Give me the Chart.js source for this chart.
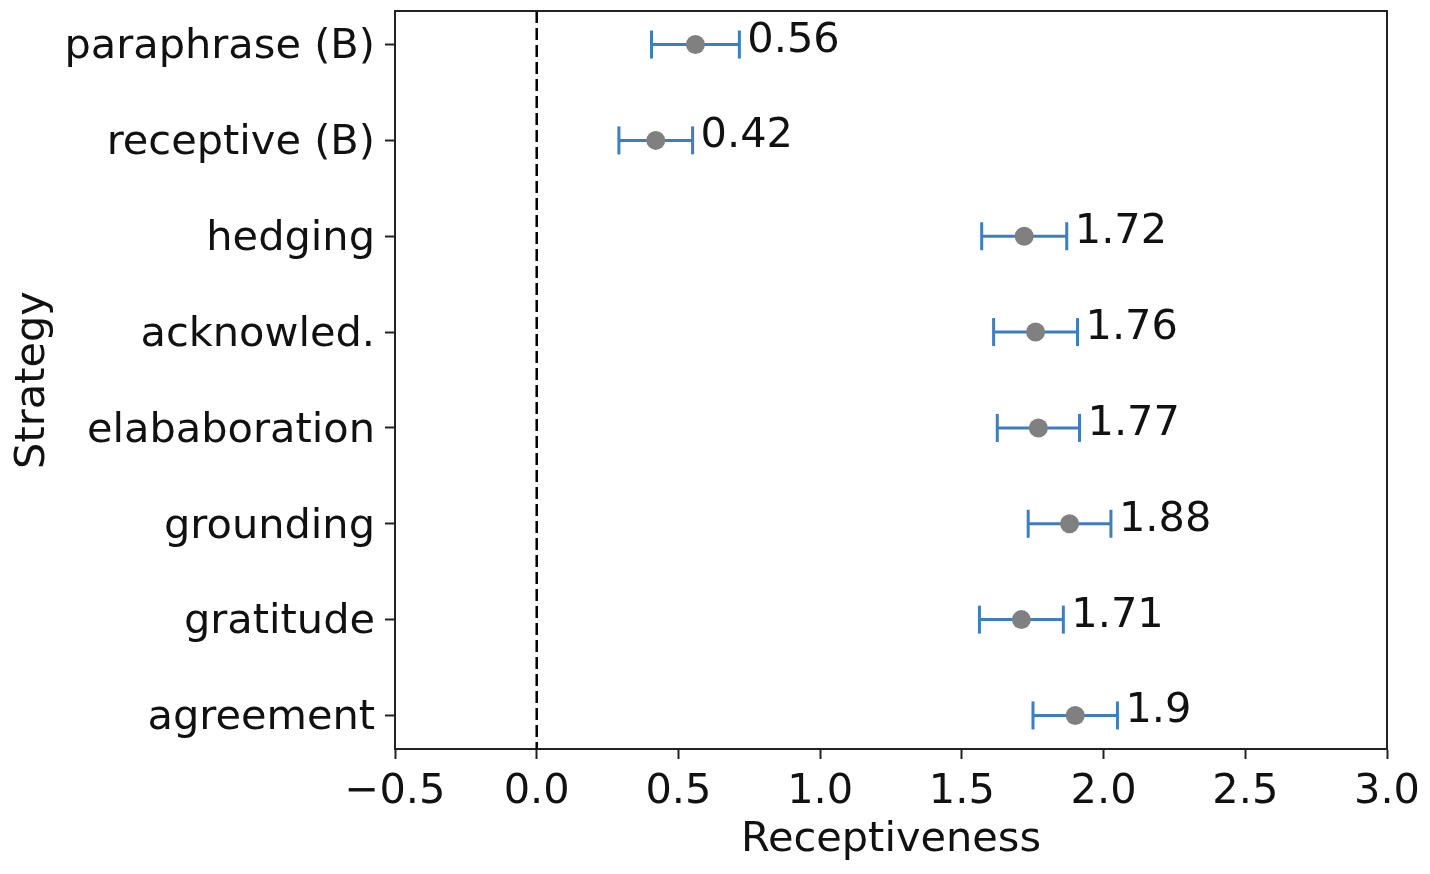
<!DOCTYPE html>
<html>
<head>
<meta charset="utf-8">
<script src="https://cdn.jsdelivr.net/npm/chart.js@4/dist/chart.umd.min.js"></script>
<style>
  html, body { margin: 0; padding: 0; background: #fff; }
  canvas { display: block; }
</style>
</head>
<body>
<canvas id="myChart" width="1430" height="874"></canvas>
<script>
// data
const strategies = ["paraphrase (B)", "receptive (B)", "hedging", "acknowled.", "elababoration", "grounding", "gratitude", "agreement"];
const means = [0.56, 0.42, 1.72, 1.76, 1.77, 1.88, 1.71, 1.9];
const errs = [0.155, 0.13, 0.15, 0.148, 0.145, 0.146, 0.148, 0.149];
const xTicks = [-0.5, 0.0, 0.5, 1.0, 1.5, 2.0, 2.5, 3.0];

const FONT = "'DejaVu Sans', sans-serif";
const FSIZE = 41.5;
const BLUE = '#3d7ebf';
const INK = '#111';

// error bars, one small line per strategy, caps drawn as rotated line points
const errSets = strategies.map((s, i) => ({
  type: 'line',
  data: [{x: means[i] - errs[i], y: i}, {x: means[i] + errs[i], y: i}],
  borderColor: BLUE,
  borderWidth: 3,
  pointStyle: 'line',
  pointRotation: 90,
  pointRadius: 14,
  pointBorderWidth: 3,
  pointBorderColor: BLUE,
  order: 1
}));

const frame = {
  id: 'frame',
  afterDraw(chart) {
    const {ctx, chartArea: a} = chart;
    ctx.save();
    ctx.strokeStyle = '#222';
    ctx.lineWidth = 2;
    ctx.beginPath();
    ctx.moveTo(a.left, a.top);
    ctx.lineTo(a.right, a.top);
    ctx.lineTo(a.right, a.bottom);
    ctx.stroke();
    ctx.restore();
  }
};

const valueLabels = {
  id: 'valueLabels',
  afterDatasetsDraw(chart) {
    const {ctx, scales} = chart;
    ctx.save();
    ctx.font = FSIZE + "px " + FONT;
    ctx.fillStyle = INK;
    ctx.textAlign = 'left';
    ctx.textBaseline = 'alphabetic';
    means.forEach((m, i) => {
      const px = scales.x.getPixelForValue(m + errs[i]) + 8;
      const py = scales.y.getPixelForValue(i) + 7;
      ctx.fillText(String(m), px, py);
    });
    ctx.restore();
  }
};

var ctx = document.getElementById("myChart").getContext('2d');
var myChart = new Chart(ctx, {
  type: 'scatter',
  data: {
    datasets: [
      {
        data: means.map((m, i) => ({x: m, y: i})),
        backgroundColor: '#808080',
        borderWidth: 0,
        pointRadius: 9.5,
        order: 0
      },
      ...errSets,
      {
        type: 'line',
        data: [{x: 0, y: -0.35}, {x: 0, y: 7.35}],
        borderColor: '#000',
        borderWidth: 2.5,
        borderDash: [12, 5],
        pointRadius: 0,
        order: 2
      }
    ]
  },
  options: {
    responsive: false,
    animation: false,
    devicePixelRatio: 1,
    layout: { autoPadding: false, padding: { top: 11, right: 43, left: 0, bottom: 0 } },
    plugins: { legend: { display: false }, tooltip: { enabled: false } },
    scales: {
      x: {
        type: 'linear',
        min: -0.5,
        max: 3.0,
        afterBuildTicks: (axis) => { axis.ticks = xTicks.map(v => ({value: v})); },
        afterFit: (axis) => { axis.height = 125; },
        ticks: {
          font: { family: FONT, size: FSIZE },
          color: INK,
          padding: 8,
          maxRotation: 0,
          callback: (v) => v.toFixed(1).replace('-', '\u2212')
        },
        grid: { drawOnChartArea: false, tickLength: 10, tickWidth: 2, tickColor: '#222' },
        border: { display: true, color: '#222', width: 2 },
        title: {
          display: true,
          text: 'Receptiveness',
          font: { family: FONT, size: FSIZE },
          color: INK,
          padding: { top: 0, bottom: 9 }
        }
      },
      y: {
        type: 'linear',
        reverse: true,
        min: -0.35,
        max: 7.35,
        afterBuildTicks: (axis) => { axis.ticks = strategies.map((s, i) => ({value: i})); },
        afterFit: (axis) => { axis.width = 395; axis.paddingTop = 0; axis.paddingBottom = 0; },
        ticks: {
          font: { family: FONT, size: FSIZE },
          color: INK,
          padding: 10,
          labelOffset: 3,
          callback: (v) => strategies[v]
        },
        grid: { drawOnChartArea: false, tickLength: 10, tickWidth: 2, tickColor: '#222' },
        border: { display: true, color: '#222', width: 2 },
        title: {
          display: true,
          text: 'Strategy',
          font: { family: FONT, size: FSIZE },
          color: INK,
          padding: { top: 8, bottom: 0 }
        }
      }
    }
  },
  plugins: [frame, valueLabels]
});
</script>
</body>
</html>
